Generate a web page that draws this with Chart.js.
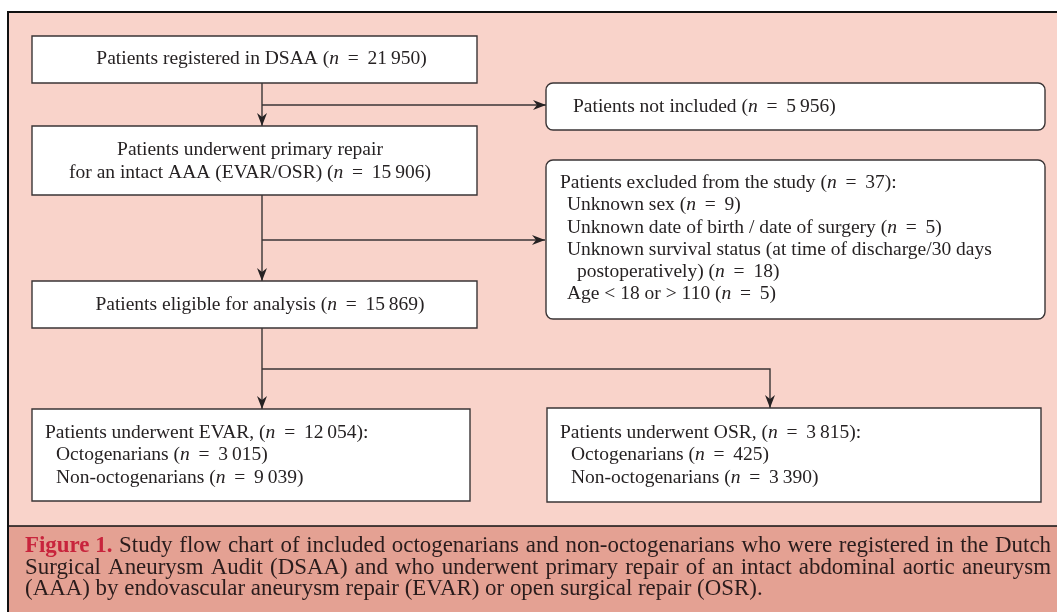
<!DOCTYPE html>
<html>
<head>
<meta charset="utf-8">
<script src="https://cdn.jsdelivr.net/npm/chart.js@4.4.1/dist/chart.umd.min.js"></script>
<style>
  html, body { margin: 0; padding: 0; background: #fff; }
  #wrap { width: 1057px; height: 612px; }
</style>
</head>
<body>
<div id="wrap"><canvas id="flow"></canvas></div>
<script>
// flow chart content (counts)
const stepLabels = ['Patients registered in DSAA', 'Patients underwent primary repair|for an intact AAA (EVAR/OSR)', 'Patients eligible for analysis'];
const stepCounts = [21950, 15906, 15869];
const dropLabels = ['Patients not included', 'Patients excluded from the study'];
const dropCounts = [5956, 37];
const exclusionReasons = ['Unknown sex', 'Unknown date of birth / date of surgery', 'Unknown survival status (at time of discharge/30 days|postoperatively)', 'Age < 18 or > 110'];
const exclusionCounts = [9, 5, 18, 5];
const armLabels = ['Patients underwent EVAR,', 'Patients underwent OSR,'];
const armCounts = [12054, 3815];
const ageGroups = ['Octogenarians', 'Non-octogenarians'];
const evarCounts = [3015, 9039];
const osrCounts = [425, 3390];
const captionLead = 'Figure 1.';
const captionLines = [
  'Study flow chart of included octogenarians and non-octogenarians who were registered in the Dutch',
  'Surgical Aneurysm Audit (DSAA) and who underwent primary repair of an intact abdominal aortic aneurysm',
  '(AAA) by endovascular aneurysm repair (EVAR) or open surgical repair (OSR).'
];

// layout in scale units (1 unit = 1 px of the figure)
const W = 1057, H = 612;
const spineX = 262;
const boxes = {
  reg:      { x0: 32,  y0: 36,  x1: 477,  y1: 83 },
  primary:  { x0: 32,  y0: 126, x1: 477,  y1: 195 },
  eligible: { x0: 32,  y0: 281, x1: 477,  y1: 328 },
  notIncl:  { x0: 546, y0: 83,  x1: 1045, y1: 130, r: 7 },
  excluded: { x0: 546, y0: 160, x1: 1045, y1: 319, r: 7 },
  evar:     { x0: 32,  y0: 409, x1: 470,  y1: 501 },
  osr:      { x0: 547, y0: 408, x1: 1041, y1: 502 }
};
const lineH = 22.2;
const COL = { bg: '#f9d3ca', cap: '#e4a193', ink: '#262223', line: '#3a3536', red: '#c8243c' };
const FAMILY = '"Liberation Serif", "DejaVu Serif", serif';

function fmt(n) {
  const s = String(n);
  return s.length > 3 ? s.slice(0, s.length - 3) + '\u2009' + s.slice(-3) : s;
}
// segments: plain text with an italic n
function nText(prefix, count, suffix) {
  return [{ t: prefix + ' (' }, { t: 'n', i: true }, { t: ' \u2009=\u2009 ' + fmt(count) + ')' + (suffix || '') }];
}

const flowPlugin = {
  id: 'flow',
  beforeDraw(chart) {
    const { ctx, scales: { x, y } } = chart;
    const px = v => x.getPixelForValue(v);
    const py = v => y.getPixelForValue(v);

    const font = (size, italic, bold) =>
      (italic ? 'italic ' : '') + (bold ? 'bold ' : '') + size + 'px ' + FAMILY;

    function segWidth(segs, size) {
      let w = 0;
      segs.forEach(s => { ctx.font = font(size, s.i, s.b); w += ctx.measureText(s.t).width; });
      return w;
    }
    function drawSegs(segs, X, Y, align, size, color) {
      let cx = px(X);
      if (align === 'center') cx -= segWidth(segs, size) / 2;
      ctx.textBaseline = 'middle';
      ctx.textAlign = 'left';
      segs.forEach(s => {
        ctx.font = font(size, s.i, s.b);
        ctx.fillStyle = s.c || color || COL.ink;
        ctx.fillText(s.t, cx, py(Y));
        cx += ctx.measureText(s.t).width;
      });
    }
    function box(b) {
      const x0 = px(b.x0), y0 = py(b.y0), w = px(b.x1) - x0, h = py(b.y1) - y0;
      ctx.beginPath();
      if (b.r) ctx.roundRect(x0, y0, w, h, b.r); else ctx.rect(x0, y0, w, h);
      ctx.fillStyle = '#fff';
      ctx.fill();
      ctx.lineWidth = 1.4;
      ctx.strokeStyle = COL.line;
      ctx.stroke();
    }
    function arrow(pts) {
      ctx.beginPath();
      ctx.moveTo(px(pts[0][0]), py(pts[0][1]));
      for (let k = 1; k < pts.length; k++) ctx.lineTo(px(pts[k][0]), py(pts[k][1]));
      ctx.lineWidth = 1.4;
      ctx.strokeStyle = COL.line;
      ctx.stroke();
      const [ax, ay] = pts[pts.length - 1], [bx, by] = pts[pts.length - 2];
      const ang = Math.atan2(py(ay) - py(by), px(ax) - px(bx));
      ctx.save();
      ctx.translate(px(ax), py(ay));
      ctx.rotate(ang);
      ctx.beginPath();
      ctx.moveTo(0, 0);
      ctx.lineTo(-13, -5);
      ctx.lineTo(-9, 0);
      ctx.lineTo(-13, 5);
      ctx.closePath();
      ctx.fillStyle = COL.ink;
      ctx.fill();
      ctx.restore();
    }

    // font sizes fitted to the widths of the original lettering
    const refLine = exclusionReasons[2].split('|')[0];
    const boxFont = 16 * (px(992) - px(567)) / segWidth([{ t: refLine }], 16);
    const capFont = 16 * (px(763) - px(25)) / segWidth([{ t: captionLines[2] }], 16);

    // backgrounds and frame
    ctx.fillStyle = '#fff';
    ctx.fillRect(0, 0, chart.width, chart.height);
    ctx.fillStyle = COL.bg;
    ctx.fillRect(px(8), py(12), px(W) - px(8), py(526) - py(12));
    ctx.fillStyle = COL.cap;
    ctx.fillRect(px(8), py(526), px(W) - px(8), py(H) - py(526));
    ctx.strokeStyle = '#111';
    ctx.lineWidth = 2;
    ctx.beginPath();
    ctx.moveTo(px(8), py(H)); ctx.lineTo(px(8), py(12)); ctx.lineTo(px(W), py(12));
    ctx.stroke();
    ctx.lineWidth = 1.5;
    ctx.beginPath();
    ctx.moveTo(px(8), py(526)); ctx.lineTo(px(W), py(526));
    ctx.stroke();

    // connectors
    arrow([[spineX, boxes.reg.y1], [spineX, boxes.primary.y0]]);
    arrow([[spineX, 105], [boxes.notIncl.x0, 105]]);
    arrow([[spineX, boxes.primary.y1], [spineX, boxes.eligible.y0]]);
    arrow([[spineX, 240], [boxes.excluded.x0 - 1, 240]]);
    arrow([[spineX, boxes.eligible.y1], [spineX, boxes.evar.y0]]);
    arrow([[spineX, 369], [770, 369], [770, boxes.osr.y0]]);

    Object.values(boxes).forEach(box);

    // main steps
    drawSegs(nText(stepLabels[0], stepCounts[0]), 261.5, 59, 'center', boxFont);
    const p = stepLabels[1].split('|');
    drawSegs([{ t: p[0] }], 250, 150, 'center', boxFont);
    drawSegs(nText(p[1], stepCounts[1]), 250, 150 + lineH * 1.02, 'center', boxFont);
    drawSegs(nText(stepLabels[2], stepCounts[2]), 260, 305, 'center', boxFont);

    // drop-outs
    drawSegs(nText(dropLabels[0], dropCounts[0]), 573, 107, 'left', boxFont);
    let yy = 183;
    drawSegs(nText(dropLabels[1], dropCounts[1], ':'), 560, yy, 'left', boxFont);
    exclusionReasons.forEach((r, k) => {
      const parts = r.split('|');
      yy += lineH;
      if (parts.length > 1) {
        drawSegs([{ t: parts[0] }], 567, yy, 'left', boxFont);
        yy += lineH;
        drawSegs(nText(parts[1], exclusionCounts[k]), 577, yy, 'left', boxFont);
      } else {
        drawSegs(nText(r, exclusionCounts[k]), 567, yy, 'left', boxFont);
      }
    });

    // treatment arms
    [[boxes.evar, evarCounts, 45], [boxes.osr, osrCounts, 560]].forEach(([b, cnt, tx], k) => {
      drawSegs(nText(armLabels[k], armCounts[k], ':'), tx, 433, 'left', boxFont);
      ageGroups.forEach((g, j) => drawSegs(nText(g, cnt[j]), tx + 11, 433 + lineH * (j + 1), 'left', boxFont));
    });

    // caption, first two lines justified
    const left = 25, right = 1051, maxW = px(right) - px(left);
    ctx.font = font(capFont);
    const space = ctx.measureText(' ').width;
    captionLines.forEach((txt, li) => {
      const ln = txt.split(' ').map(t => ({ t }));
      if (li === 0) ln.unshift({ t: captionLead, b: true, c: COL.red });
      const ws = ln.map(wd => segWidth([wd], capFont));
      const total = ws.reduce((a, b) => a + b, 0);
      const gap = li < captionLines.length - 1 ? (maxW - total) / (ln.length - 1) : space;
      let cx = px(left);
      ln.forEach((wd, k) => {
        ctx.font = font(capFont, false, wd.b);
        ctx.fillStyle = wd.c || '#2a1c1c';
        ctx.textAlign = 'left';
        ctx.textBaseline = 'middle';
        ctx.fillText(wd.t, cx, py(546 + li * 21.6));
        cx += ws[k] + gap;
      });
    });
  }
};

new Chart(document.getElementById('flow'), {
  type: 'scatter',
  data: { datasets: [{ data: [], pointRadius: 0 }] },
  options: {
    responsive: true,
    maintainAspectRatio: false,
    animation: false,
    events: [],
    layout: { padding: 0 },
    plugins: { legend: { display: false }, tooltip: { enabled: false } },
    scales: {
      x: { type: 'linear', min: 0, max: W, display: false },
      y: { type: 'linear', min: 0, max: H, reverse: true, display: false }
    }
  },
  plugins: [flowPlugin]
});
</script>
</body>
</html>
